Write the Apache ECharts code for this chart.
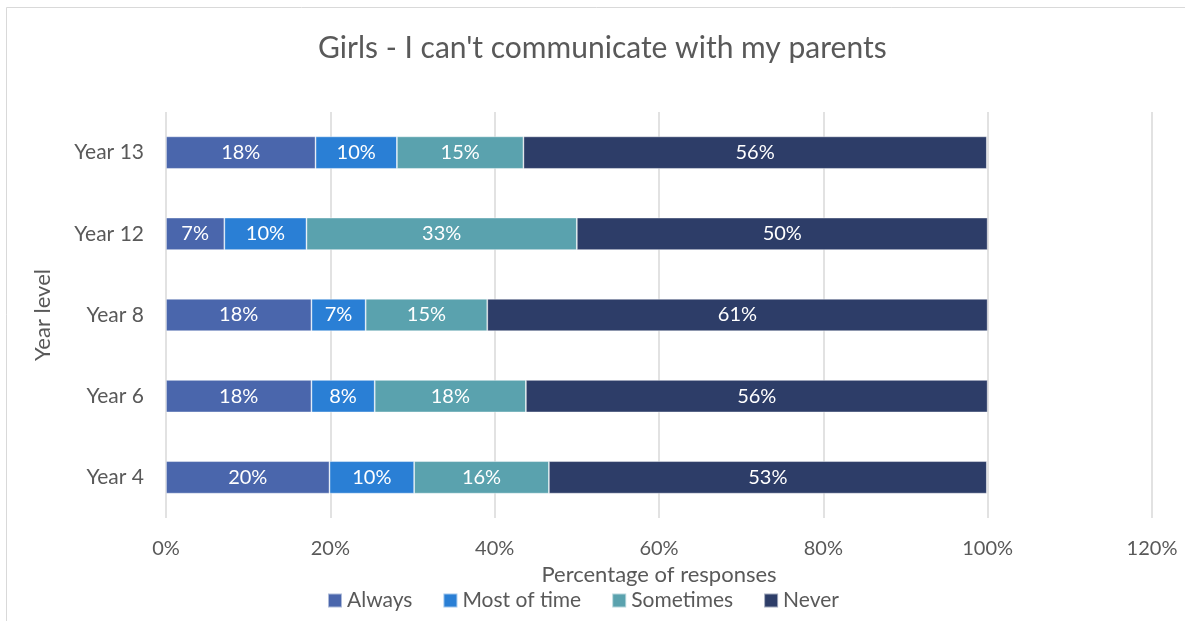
<!DOCTYPE html>
<html>
<head>
<meta charset="utf-8">
<script src="https://cdn.jsdelivr.net/npm/echarts@6/dist/echarts.min.js"></script>
<style>
  html, body { margin: 0; padding: 0; background: #fff; }
  #chart { width: 1185px; height: 621px; }
</style>
</head>
<body>
<div id="chart"></div>
<script>
// Year levels, listed bottom to top
const categories = ['Year 4', 'Year 6', 'Year 8', 'Year 12', 'Year 13'];

// Share of responses (%) per answer, same order as categories
const always    = [19.9, 17.7, 17.7, 7.1, 18.2];
const mostOfTime = [10.3, 7.7, 6.6, 10.0, 9.9];
const sometimes = [16.4, 18.4, 14.8, 32.9, 15.4];
const never     = [53.3, 56.2, 60.9, 50.0, 56.4];

const seriesNames = ['Always', 'Most of time', 'Sometimes', 'Never'];
const colors = ['#4A66AC', '#2A7FD5', '#5AA2AE', '#2D3D68'];
const tickValues = [0, 20, 40, 60, 80, 100, 120];

const FONT = 'Lato, "Open Sans", sans-serif';
const TEXT = '#595959';

const chart = echarts.init(document.getElementById('chart'), null, { renderer: 'canvas' });

const mk = (name, data, color) => ({
  name,
  type: 'bar',
  stack: 'total',
  data,
  barWidth: '40%',
  itemStyle: { color, borderColor: 'rgba(255,255,255,0.55)', borderWidth: 0.8 },
  label: {
    show: true,
    position: 'inside',
    color: '#fff',
    fontFamily: FONT,
    fontSize: 20,
    formatter: p => Math.round(p.value) + '%'
  }
});

chart.setOption({
  animation: false,
  backgroundColor: '#fff',
  color: colors,
  graphic: [{
    type: 'rect',
    shape: { x: 6.5, y: 7.5, width: 1200, height: 640 },
    style: { fill: 'none', stroke: '#D9D9D9', lineWidth: 1 },
    silent: true,
    z: -1
  }],
  title: {
    text: "Girls - I can't communicate with my parents",
    left: 318,
    top: 33,
    padding: 0,
    textStyle: { fontFamily: FONT, fontSize: 30, fontWeight: 'normal', color: TEXT }
  },
  legend: {
    bottom: 5,
    left: 322,
    itemWidth: 14,
    itemHeight: 14,
    itemGap: 30,
    icon: 'rect',
    textStyle: { fontFamily: FONT, fontSize: 21, color: TEXT, padding: [0, 0, 0, 0] },
    data: seriesNames
  },
  grid: { left: 166, right: 33, top: 112, height: 406, containLabel: false },
  xAxis: {
    type: 'value',
    min: 0,
    max: 120,
    interval: 20,
    name: 'Percentage of responses',
    nameLocation: 'middle',
    nameGap: 46,
    nameTextStyle: { fontFamily: FONT, fontSize: 22, color: TEXT },
    axisLine: { show: false },
    axisTick: { show: false },
    axisLabel: {
      margin: 21,
      fontFamily: FONT,
      fontSize: 20,
      color: TEXT,
      formatter: v => (tickValues.includes(v) ? v + '%' : '')
    },
    splitLine: { show: true, lineStyle: { color: '#D9D9D9', width: 1.5 } }
  },
  yAxis: {
    type: 'category',
    data: categories,
    name: 'Year level',
    nameLocation: 'middle',
    nameGap: 112,
    nameRotate: 90,
    nameTextStyle: { fontFamily: FONT, fontSize: 22, color: TEXT },
    axisLine: { show: false },
    axisTick: { show: false },
    axisLabel: { margin: 22, fontFamily: FONT, fontSize: 21, color: TEXT },
    splitLine: { show: false }
  },
  series: [
    mk(seriesNames[0], always, colors[0]),
    mk(seriesNames[1], mostOfTime, colors[1]),
    mk(seriesNames[2], sometimes, colors[2]),
    mk(seriesNames[3], never, colors[3])
  ]
});
</script>
</body>
</html>
